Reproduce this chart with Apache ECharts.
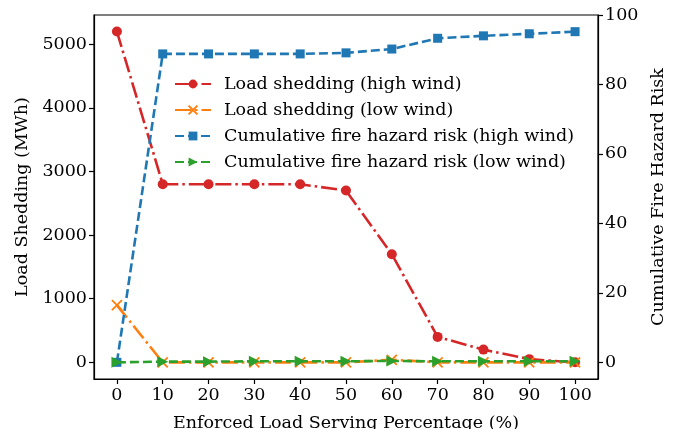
<!DOCTYPE html>
<html><head><meta charset="utf-8">
<script src="https://cdn.jsdelivr.net/npm/echarts@6/dist/echarts.min.js"></script>
<style>html,body{margin:0;padding:0;background:#fff}#c{width:686px;height:429px}</style>
</head><body><div id="c"></div>
<script>
const categories = [0, 10, 20, 30, 40, 50, 60, 70, 80, 90, 100];
const loadHigh = [5200, 2800, 2800, 2800, 2800, 2700, 1700, 400, 200, 50, 0];
const loadLow = [900, 0, 0, 0, 0, 0, 40, 0, 0, 0, 0];
const riskHigh = [0, 88.8, 88.8, 88.8, 88.8, 89.1, 90.2, 93.3, 94.0, 94.6, 95.2];
const riskLow = [0, 0.2, 0.2, 0.3, 0.3, 0.3, 0.4, 0.3, 0.3, 0.3, 0.3];
const xTicks = [0, 10, 20, 30, 40, 50, 60, 70, 80, 90, 100];
const yLeftTicks = [0, 1000, 2000, 3000, 4000, 5000];
const yRightTicks = [0, 20, 40, 60, 80, 100];
const seriesNames = ['Load shedding (high wind)', 'Load shedding (low wind)', 'Cumulative fire hazard risk (high wind)', 'Cumulative fire hazard risk (low wind)'];

const FONT = 'DejaVu Serif';
const FS = 17.5;
const pair = (arr) => categories.map((c, i) => [c, arr[i]]);
const dashdot = [16, 4, 2.5, 4];
const dashed = [9, 4];
const axisCommon = {
  axisLine: { show: true, onZero: false, lineStyle: { color: '#000', width: 1.2 } },
  axisTick: { show: true, inside: false, length: 5, lineStyle: { color: '#000', width: 1.2 } },
  axisLabel: { color: '#000', fontFamily: FONT, fontSize: FS, margin: 7, formatter: (v) => String(v) },
  splitLine: { show: false },
  nameTextStyle: { color: '#000', fontFamily: FONT, fontSize: FS },
  nameLocation: 'middle'
};
const chart = echarts.init(document.getElementById('c'));
chart.setOption({
  animation: false,
  backgroundColor: '#fff',
  grid: { left: 94, right: 88, top: 15, bottom: 50, outerBoundsMode: 'none', containLabel: false,
          show: true, borderColor: '#000', borderWidth: 1.2, backgroundColor: 'transparent' },
  legend: {
    orient: 'vertical', left: 169, top: 70, itemWidth: 36, itemHeight: 11, itemGap: 8,
    textStyle: { color: '#000', fontFamily: FONT, fontSize: FS, padding: [0, 0, 0, 8] },
    data: seriesNames
  },
  xAxis: Object.assign({}, axisCommon, {
    type: 'value', min: -5, max: 105,
    name: 'Enforced Load Serving Percentage (%)', nameGap: 35,
    axisTick: Object.assign({}, axisCommon.axisTick, { customValues: xTicks }),
    axisLabel: Object.assign({}, axisCommon.axisLabel, { customValues: xTicks })
  }),
  yAxis: [
    Object.assign({}, axisCommon, {
      type: 'value', min: -262, max: 5460, position: 'left',
      name: 'Load Shedding (MWh)', nameGap: 62,
      axisTick: Object.assign({}, axisCommon.axisTick, { customValues: yLeftTicks }),
      axisLabel: Object.assign({}, axisCommon.axisLabel, { customValues: yLeftTicks })
    }),
    Object.assign({}, axisCommon, {
      type: 'value', min: -4.8, max: 100, position: 'right',
      name: 'Cumulative Fire Hazard Risk', nameGap: 50,
      axisTick: Object.assign({}, axisCommon.axisTick, { customValues: yRightTicks }),
      axisLabel: Object.assign({}, axisCommon.axisLabel, { customValues: yRightTicks })
    })
  ],
  series: [
    { name: seriesNames[0], type: 'line', yAxisIndex: 0, data: pair(loadHigh), z: 2,
      symbol: 'circle', symbolSize: 10, color: '#d62728',
      lineStyle: { color: '#d62728', width: 2.6, type: dashdot }, itemStyle: { color: '#d62728' } },
    { name: seriesNames[1], type: 'line', yAxisIndex: 0, data: pair(loadLow), z: 3,
      symbol: 'path://M0,0L10,10M10,0L0,10', symbolSize: 10, color: '#ff7f0e',
      lineStyle: { color: '#ff7f0e', width: 2.6, type: dashdot },
      itemStyle: { color: 'none', borderColor: '#ff7f0e', borderWidth: 1.8 } },
    { name: seriesNames[2], type: 'line', yAxisIndex: 1, data: pair(riskHigh), z: 4,
      symbol: 'rect', symbolSize: 9, color: '#1f77b4',
      lineStyle: { color: '#1f77b4', width: 2.6, type: dashed }, itemStyle: { color: '#1f77b4' } },
    { name: seriesNames[3], type: 'line', yAxisIndex: 1, data: pair(riskLow), z: 5,
      symbol: 'triangle', symbolRotate: -90, symbolSize: 11, color: '#2ca02c',
      lineStyle: { color: '#2ca02c', width: 2.6, type: dashed }, itemStyle: { color: '#2ca02c' } }
  ]
});
</script></body></html>
